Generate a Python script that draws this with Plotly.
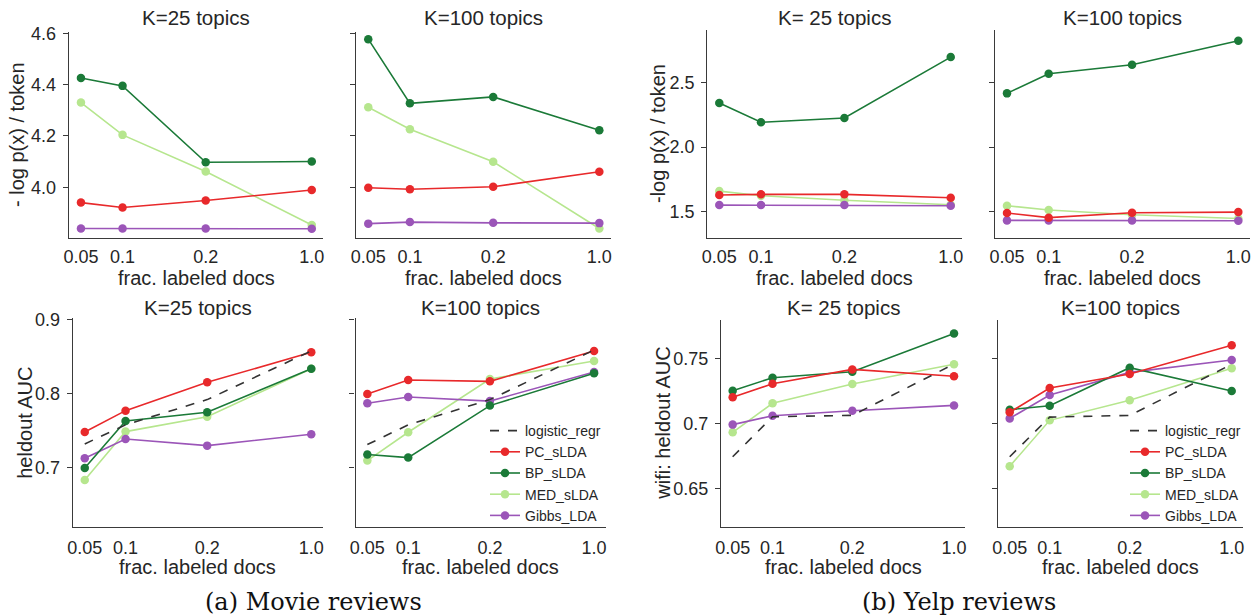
import plotly.graph_objects as go

W, H = 1255, 615

# ---------------- data ----------------
FRAC_LABELS = ["0.05", "0.1", "0.2", "1.0"]
X_POS = [0, 1, 3, 5.55]          # axis positions used for the four fractions

# Movie reviews : -log p(x) / token
movie_nll25_pc = [3.940, 3.921, 3.948, 3.989]
movie_nll25_bp = [4.426, 4.395, 4.097, 4.100]
movie_nll25_med = [4.330, 4.204, 4.061, 3.853]
movie_nll25_gibbs = [3.839, 3.839, 3.839, 3.838]

movie_nll100_pc = [3.998, 3.992, 4.002, 4.060]
movie_nll100_bp = [4.577, 4.327, 4.352, 4.222]
movie_nll100_med = [4.312, 4.226, 4.099, 3.839]
movie_nll100_gibbs = [3.858, 3.864, 3.861, 3.860]

# Yelp reviews : -log p(x) / token
yelp_nll25_pc = [1.630, 1.635, 1.635, 1.609]
yelp_nll25_bp = [2.340, 2.191, 2.224, 2.694]
yelp_nll25_med = [1.660, 1.624, 1.589, 1.555]
yelp_nll25_gibbs = [1.552, 1.552, 1.552, 1.547]

yelp_nll100_pc = [1.491, 1.455, 1.493, 1.498]
yelp_nll100_bp = [2.414, 2.566, 2.635, 2.820]
yelp_nll100_med = [1.547, 1.514, 1.477, 1.449]
yelp_nll100_gibbs = [1.434, 1.434, 1.434, 1.431]

# Movie reviews : heldout AUC
movie_auc25_lr = [0.7323, 0.7580, 0.7920, 0.8575]
movie_auc25_pc = [0.7484, 0.7771, 0.8153, 0.8557]
movie_auc25_bp = [0.7000, 0.7633, 0.7750, 0.8337]
movie_auc25_med = [0.6838, 0.7489, 0.7690, 0.8335]
movie_auc25_gibbs = [0.7130, 0.7390, 0.7300, 0.7453]

movie_auc100_lr = [0.7314, 0.7580, 0.7920, 0.8588]
movie_auc100_pc = [0.7996, 0.8184, 0.8166, 0.8575]
movie_auc100_bp = [0.7180, 0.7139, 0.7839, 0.8274]
movie_auc100_med = [0.7099, 0.7480, 0.8198, 0.8440]
movie_auc100_gibbs = [0.7870, 0.7955, 0.7900, 0.8292]

# Yelp reviews : wifi heldout AUC
yelp_auc25_lr = [0.6743, 0.7051, 0.7061, 0.7456]
yelp_auc25_pc = [0.7200, 0.7305, 0.7415, 0.7362]
yelp_auc25_bp = [0.7251, 0.7351, 0.7397, 0.7692]
yelp_auc25_med = [0.6931, 0.7154, 0.7302, 0.7454]
yelp_auc25_gibbs = [0.6990, 0.7058, 0.7097, 0.7138]

yelp_auc100_lr = [0.6743, 0.7048, 0.7061, 0.7454]
yelp_auc100_pc = [0.7085, 0.7272, 0.7379, 0.7600]
yelp_auc100_bp = [0.7105, 0.7135, 0.7428, 0.7248]
yelp_auc100_med = [0.6669, 0.7023, 0.7177, 0.7423]
yelp_auc100_gibbs = [0.7038, 0.7218, 0.7392, 0.7487]

# tick labels
NLL_MOVIE_TICKS = [4.0, 4.2, 4.4, 4.6]
NLL_MOVIE_TICKTEXT = ["4.0", "4.2", "4.4", "4.6"]
NLL_YELP_TICKS = [1.5, 2.0, 2.5]
NLL_YELP_TICKTEXT = ["1.5", "2.0", "2.5"]
AUC_MOVIE_TICKS = [0.7, 0.8, 0.9]
AUC_MOVIE_TICKTEXT = ["0.7", "0.8", "0.9"]
AUC_YELP_TICKS = [0.65, 0.7, 0.75]
AUC_YELP_TICKTEXT = ["0.65", "0.7", "0.75"]

# ---------------- styles ----------------
FONT = "Liberation Sans, Arial, sans-serif"
TXT = "#262626"
AX = "#3a3a3a"
STYLE = {
    "logistic_regr": dict(color="#333333", dash="dash", marker=False, rank=1),
    "PC_sLDA": dict(color="#e8292b", dash="solid", marker=True, rank=2),
    "BP_sLDA": dict(color="#1b7a38", dash="solid", marker=True, rank=3),
    "MED_sLDA": dict(color="#b6e68e", dash="solid", marker=True, rank=4),
    "Gibbs_LDA": dict(color="#9b55b8", dash="solid", marker=True, rank=5),
}
DRAW_ORDER = ["MED_sLDA", "Gibbs_LDA", "BP_sLDA", "PC_sLDA", "logistic_regr"]

def px_x(v):
    return v / W

def px_y(v):
    return 1 - v / H

panels = [
    dict(series={"PC_sLDA": movie_nll25_pc, "BP_sLDA": movie_nll25_bp,
                 "MED_sLDA": movie_nll25_med, "Gibbs_LDA": movie_nll25_gibbs},
         xd=(68.9, 323.4), yd=(32, 238), yr=(3.802, 4.605),
         tv=NLL_MOVIE_TICKS, tt=NLL_MOVIE_TICKTEXT,
         title="K=25 topics", ylab="- log p(x) / token", ylx=17, leg=None),
    dict(series={"PC_sLDA": movie_nll100_pc, "BP_sLDA": movie_nll100_bp,
                 "MED_sLDA": movie_nll100_med, "Gibbs_LDA": movie_nll100_gibbs},
         xd=(356.2, 611.0), yd=(32, 238), yr=(3.802, 4.605),
         tv=NLL_MOVIE_TICKS, tt=None,
         title="K=100 topics", ylab=None, ylx=None, leg=None),
    dict(series={"PC_sLDA": yelp_nll25_pc, "BP_sLDA": yelp_nll25_bp,
                 "MED_sLDA": yelp_nll25_med, "Gibbs_LDA": yelp_nll25_gibbs},
         xd=(707.2, 962.4), yd=(30, 238), yr=(1.298, 2.903),
         tv=NLL_YELP_TICKS, tt=NLL_YELP_TICKTEXT,
         title="K= 25 topics", ylab="-log p(x) / token", ylx=658, leg=None),
    dict(series={"PC_sLDA": yelp_nll100_pc, "BP_sLDA": yelp_nll100_bp,
                 "MED_sLDA": yelp_nll100_med, "Gibbs_LDA": yelp_nll100_gibbs},
         xd=(994.9, 1250), yd=(30, 238), yr=(1.298, 2.903),
         tv=NLL_YELP_TICKS, tt=None,
         title="K=100 topics", ylab=None, ylx=None, leg=None),
    dict(series={"logistic_regr": movie_auc25_lr, "PC_sLDA": movie_auc25_pc,
                 "BP_sLDA": movie_auc25_bp, "MED_sLDA": movie_auc25_med,
                 "Gibbs_LDA": movie_auc25_gibbs},
         xd=(72.9, 322.7), yd=(318.3, 527.3), yr=(0.620, 0.9015),
         tv=AUC_MOVIE_TICKS, tt=AUC_MOVIE_TICKTEXT,
         title="K=25 topics", ylab="heldout AUC", ylx=25, leg=None),
    dict(series={"logistic_regr": movie_auc100_lr, "PC_sLDA": movie_auc100_pc,
                 "BP_sLDA": movie_auc100_bp, "MED_sLDA": movie_auc100_med,
                 "Gibbs_LDA": movie_auc100_gibbs},
         xd=(355.5, 605.5), yd=(318.3, 527.3), yr=(0.620, 0.9015),
         tv=AUC_MOVIE_TICKS, tt=None,
         title="K=100 topics", ylab=None, ylx=None, leg="legend"),
    dict(series={"logistic_regr": yelp_auc25_lr, "PC_sLDA": yelp_auc25_pc,
                 "BP_sLDA": yelp_auc25_bp, "MED_sLDA": yelp_auc25_med,
                 "Gibbs_LDA": yelp_auc25_gibbs},
         xd=(721.1, 965.2), yd=(320, 527.3), yr=(0.620, 0.7795),
         tv=AUC_YELP_TICKS, tt=AUC_YELP_TICKTEXT,
         title="K= 25 topics", ylab="wifi: heldout AUC", ylx=663, leg=None),
    dict(series={"logistic_regr": yelp_auc100_lr, "PC_sLDA": yelp_auc100_pc,
                 "BP_sLDA": yelp_auc100_bp, "MED_sLDA": yelp_auc100_med,
                 "Gibbs_LDA": yelp_auc100_gibbs},
         xd=(998.1, 1242.9), yd=(320, 527.3), yr=(0.620, 0.7795),
         tv=AUC_YELP_TICKS, tt=None,
         title="K=100 topics", ylab=None, ylx=None, leg="legend2"),
]

fig = go.Figure()
annotations = []
layout = {}

for i, p in enumerate(panels, start=1):
    sfx = "" if i == 1 else str(i)
    xa, ya = "x" + sfx, "y" + sfx
    for name in DRAW_ORDER:
        if name not in p["series"]:
            continue
        st = STYLE[name]
        fig.add_trace(go.Scatter(
            x=X_POS, y=p["series"][name], xaxis=xa, yaxis=ya,
            name=name, legendrank=st["rank"],
            mode="lines+markers" if st["marker"] else "lines",
            line=dict(color=st["color"], width=1.6, dash=st["dash"]),
            marker=dict(color=st["color"], size=8.5),
            showlegend=p["leg"] is not None,
            legend=p["leg"] if p["leg"] else "legend",
            hoverinfo="x+y+name",
        ))
    x0, x1 = p["xd"]
    y0, y1 = p["yd"]
    top_row = y1 < 300
    layout["xaxis" + sfx] = dict(
        domain=[px_x(x0), px_x(x1)], anchor=ya, range=[-0.29, 5.83],
        tickmode="array", tickvals=X_POS, ticktext=FRAC_LABELS,
        showline=True, linecolor=AX, linewidth=1.3, ticks="",
        ticklabelstandoff=2 if top_row else 4, showgrid=False, zeroline=False,
        automargin=False,
        tickfont=dict(family=FONT, size=18, color=TXT), fixedrange=True,
    )
    layout["yaxis" + sfx] = dict(
        domain=[px_y(y1), px_y(y0)], anchor=xa, range=list(p["yr"]),
        tickmode="array", tickvals=p["tv"],
        ticktext=p["tt"] if p["tt"] else [""] * len(p["tv"]),
        showline=True, linecolor=AX, linewidth=1.3,
        ticks="outside", ticklen=5, tickwidth=1.3, tickcolor=AX,
        ticklabelstandoff=3, showgrid=False, zeroline=False, automargin=False,
        tickfont=dict(family=FONT, size=18, color=TXT), fixedrange=True,
    )
    cx = (x0 + x1) / 2
    annotations.append(dict(
        text=p["title"], xref="paper", yref="paper", x=px_x(cx),
        y=px_y(17.5 if top_row else 307.5), xanchor="center", yanchor="middle",
        showarrow=False, font=dict(family=FONT, size=20.5, color=TXT)))
    annotations.append(dict(
        text="frac. labeled docs", xref="paper", yref="paper", x=px_x(cx),
        y=px_y(278 if top_row else 567), xanchor="center", yanchor="middle",
        showarrow=False, font=dict(family=FONT, size=20, color=TXT)))
    if p["ylab"]:
        annotations.append(dict(
            text=p["ylab"], xref="paper", yref="paper", x=px_x(p["ylx"]),
            y=px_y((y0 + y1) / 2), xanchor="center", yanchor="middle",
            textangle=-90, showarrow=False,
            font=dict(family=FONT, size=20, color=TXT)))

CAPTIONS = ["(a) Movie reviews", "(b) Yelp reviews"]
CAPTION_X = [313.5, 958.5]
for cap, cxp in zip(CAPTIONS, CAPTION_X):
    annotations.append(dict(
        text=cap, xref="paper", yref="paper", x=px_x(cxp), y=px_y(602),
        xanchor="center", yanchor="middle", showarrow=False,
        font=dict(family="DejaVu Serif, serif", size=24, color="#111111")))

legend_style = dict(
    font=dict(family=FONT, size=14, color=TXT), bgcolor="rgba(0,0,0,0)",
    borderwidth=0, xanchor="left", yanchor="top", itemwidth=30,
    tracegroupgap=0, traceorder="normal",
)
layout["legend"] = dict(x=px_x(485), y=px_y(415), **legend_style)
layout["legend2"] = dict(x=px_x(1125), y=px_y(415), **legend_style)

fig.update_layout(
    template="none",
    width=W, height=H, margin=dict(l=0, r=0, t=0, b=0, pad=0, autoexpand=False),
    paper_bgcolor="white", plot_bgcolor="white",
    annotations=annotations, showlegend=True, **layout,
)

fig.write_html(
    "out.html",
    config={"displayModeBar": False},
    post_script="document.body.style.margin='0';document.body.style.overflow='hidden';",
)
